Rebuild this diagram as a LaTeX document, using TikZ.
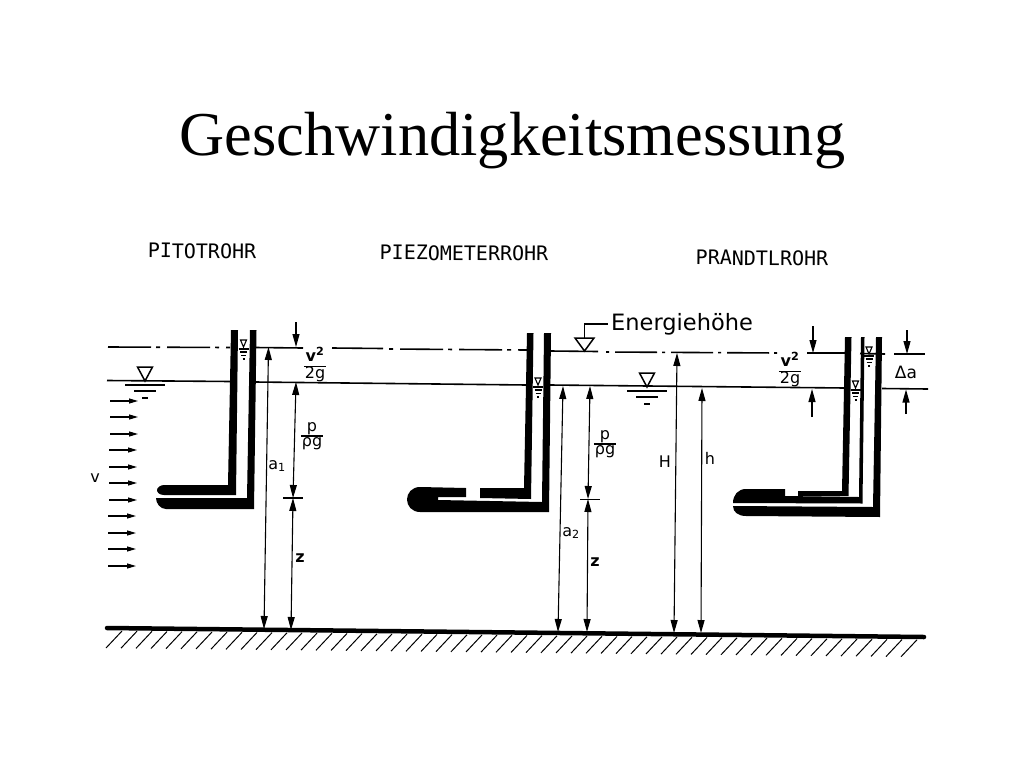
\documentclass[tikz,border=0pt]{standalone}
\usepackage{fontspec}
\setmainfont{Liberation Serif}
\setsansfont{DejaVu Sans}
\newfontfamily\headfont{DejaVu Sans Mono}
\usetikzlibrary{arrows.meta}
\newcommand{\lfrac}[2]{\renewcommand{\arraystretch}{0.85}\setlength{\arrayrulewidth}{1.2pt}\setlength{\tabcolsep}{1pt}\begin{tabular}{c}#1\\\hline #2\end{tabular}}
\tikzset{
    head/.style={font=\headfont\fontsize{20}{20}\selectfont, inner sep=0pt, rotate=-0.4},
    lbl/.style={font=\sffamily\fontsize{16}{16}\selectfont, inner sep=0pt},
    surface/.style={line width=1.6pt},
    energy/.style={line width=1.6pt, dash pattern=on 43pt off 5pt on 4pt off 7pt},
    tube/.style={fill=black, draw=none},
    dim/.style={line width=1.1pt, -{Stealth[length=13pt,width=7pt,inset=0pt]}},
    dimboth/.style={line width=1.1pt, {Stealth[length=13pt,width=7pt,inset=0pt]}-{Stealth[length=13pt,width=7pt,inset=0pt]}},
    flow/.style={line width=1.1pt, -{Stealth[length=9pt,width=5pt,inset=0pt]}},
    tick/.style={line width=1.2pt},
    wave/.style={line width=1.2pt},
    hatch/.style={line width=1pt},
    level/.pic={
        \draw[line width=1.1pt, fill=white] (-3,-7) -- (3,-7) -- (0,0) -- cycle;
        \draw[wave] (-5,2) -- (5,2);
        \draw[wave] (-3.5,5) -- (3.5,5);
        \draw[wave] (-2.5,8.5) -- (2.5,8.5);
        \draw[wave] (-1,12) -- (1,12);
    },
    levelbig/.pic={
        \draw[line width=1.5pt, fill=white] (-7.5,-14) -- (7.5,-14) -- (0,0) -- cycle;
        \draw[wave] (-20,4) -- (20,4);
        \draw[wave] (-11,10) -- (11,10);
        \draw[wave] (-3,17) -- (3,17);
    }
}
\begin{document}
\begin{tikzpicture}[x=1pt, y=-1pt]
            \useasboundingbox (0,0) rectangle (1024,768);
            % Nodes
            \node[inner sep=0pt, anchor=base, font=\fontsize{62.4}{62.4}\selectfont] (title) at (512.5,155) {Geschwindigkeitsmessung};
            \node[head] (pitot) at (202,251) {PITOTROHR};
            \node[head] (piezo) at (464,253) {PIEZOMETERROHR};
            \node[head] (prandtl) at (762,258) {PRANDTLROHR};
            \node[lbl, anchor=west, font=\sffamily\fontsize{22.5}{22.5}\selectfont] (energie) at (611,324) {Energiehöhe};
            \node[lbl] (v) at (95,478) {v};
            \node[lbl] (frac1) at (315,365) {\lfrac{\textbf{v\textsuperscript{2}}}{2g}};
            \node[lbl] (pfrac1) at (312,436) {\lfrac{p}{ρg}};
            \node[lbl] (a1) at (277,466) {a\textsubscript{1}};
            \node[lbl] (z1) at (300,558) {\textbf{z}};
            \node[lbl] (pfrac2) at (605,444) {\lfrac{p}{ρg}};
            \node[lbl] (a2) at (571,533) {a\textsubscript{2}};
            \node[lbl] (z2) at (595,562) {\textbf{z}};
            \node[lbl] (H) at (665,462) {H};
            \node[lbl] (h) at (710,458) {h};
            \node[lbl] (frac3) at (790,370) {\lfrac{\textbf{v\textsuperscript{2}}}{2g}};
            \node[lbl, font=\sffamily\fontsize{17}{17}\selectfont] (da) at (906,372) {Δa};

            % Points
            \coordinate (tipA) at (268.5,347);
            \coordinate (footA) at (264,629);
            \coordinate (topP) at (296,382);
            \coordinate (midP) at (293,498);
            \coordinate (footZ) at (291,630);
            \coordinate (topV) at (296,322);
            \coordinate (endV) at (296,347);
            \coordinate (tipB) at (563,386);
            \coordinate (footB) at (558,632);
            \coordinate (topQ) at (590,386);
            \coordinate (midQ) at (588,499);
            \coordinate (footQ) at (587,632);
            \coordinate (tipH) at (677,353);
            \coordinate (footH) at (674,633);
            \coordinate (tiph) at (702,388);
            \coordinate (footh) at (701,633);

            % Surfaces
            \draw[surface] (107,380.5) -- (231,381.5);
            \draw[surface] (255,382) -- (527,385);
            \draw[surface] (550,385) -- (845,388);
            \draw[surface] (882,388.5) -- (928,389);
            \draw[energy] (108,347) -- (230,347.5);
            \draw[surface] (255,347.5) -- (303,348);
            \draw[surface] (332,348) -- (383,348.5);
            \draw[energy, dash phase=48pt] (389,349) -- (527,350);
            \draw[surface] (550,351) -- (598,351.5);
            \draw[energy, dash pattern=on 42pt off 5pt on 3pt off 6pt, dash phase=47pt] (606,352) -- (778,353);
            \draw[surface] (807,353) -- (845,353);
            \draw[surface] (860,353.5) -- (885,354);
            \draw[surface] (894,354) -- (925,354);

            % Pitot tube
            \fill[tube] (231,330) -- (238,330) -- (236,495) -- (164,495) .. controls (159,495) and (157,492) .. (157,490) .. controls (157,488) and (160,485) .. (164,485) -- (228,485) -- cycle;
            \fill[tube] (250,330) -- (256.5,330) -- (254,509) -- (166,509) .. controls (160,509) and (156,503) .. (156,498) -- (247,498) -- cycle;

            % Piezometer tube
            \fill[tube] (527,333) -- (533.5,333) -- (531,499) -- (480,498) -- (480,488) -- (524,488) -- cycle;
            \fill[tube] (544,333) -- (551,333) -- (549,512) -- (420,512) .. controls (412,512) and (407,506) .. (407,499.5) .. controls (407,493) and (412,487) .. (420,487) -- (466,488) -- (466,497) -- (438,497) -- (438,500) -- (542,502) -- cycle;

            % Prandtl tube
            \fill[tube] (845,337) -- (851.5,337) -- (848.5,496) -- (798,496) -- (798,491) -- (842,491) -- cycle;
            \fill[tube] (861,337) -- (864.5,337) -- (862.5,503.5) -- (733,503) .. controls (733,495) and (738,489) .. (746,489) -- (785,489) -- (785,496) -- (859,497) -- cycle;
            \fill[tube] (876,337) -- (882,337) -- (880,517) -- (746,516) .. controls (738,516) and (733,512) .. (733,506) -- (873,507) -- cycle;

            % Levels
            \pic at (145,381) {levelbig};
            \pic at (647,387) {levelbig};
            \pic at (243.5,347) {level};
            \pic at (538,385) {level};
            \pic at (869,354) {level};
            \pic at (855.5,388) {level};

            % Energy mark
            \draw[line width=1.5pt, fill=white] (575,338) -- (594,338) -- (584.5,351) -- cycle;
            \draw[line width=1.5pt] (584.5,338) |- ([xshift=-3pt]energie.west);

            % Flow
            \draw[flow] (110,401) -- (138,401);
            \draw[flow] (110,417) -- (138,417);
            \draw[flow] (110,434) -- (138,434);
            \draw[flow] (109,450) -- (137,450);
            \draw[flow] (109,467) -- (137,467);
            \draw[flow] (109,483) -- (137,483);
            \draw[flow] (109,500) -- (137,500);
            \draw[flow] (108,516) -- (136,516);
            \draw[flow] (108,533) -- (136,533);
            \draw[flow] (108,549) -- (136,549);
            \draw[flow] (108,566) -- (136,566);

            % Dimensions
            \draw[dimboth] (tipA) -- (footA);
            \draw[dim] (topV) -- (endV);
            \draw[dimboth] (topP) -- (midP);
            \draw[dimboth] (midP) -- (footZ);
            \draw[tick] (283,498) -- (303,498);
            \draw[dimboth] (tipB) -- (footB);
            \draw[dimboth] (topQ) -- (midQ);
            \draw[dimboth] (midQ) -- (footQ);
            \draw[tick] (580,499.5) -- (600,499.5);
            \draw[dimboth] (tipH) -- (footH);
            \draw[dimboth] (tiph) -- (footh);
            \draw[dim] (813,326) -- (813,353);
            \draw[dim] (812,417) -- (812,389);
            \draw[dim] (907,330) -- (907,354);
            \draw[dim] (906,414) -- (906,389.5);

            % Ground
            \draw[line width=4.5pt, line cap=round] (107,628) -- (924,637);
            \foreach \i in {0,...,53} {
                \draw[hatch] ({106+15*\i},{648+0.165*\i}) -- ({122+15*\i},{631+0.165*\i});
            }
        \end{tikzpicture}
\end{document}
